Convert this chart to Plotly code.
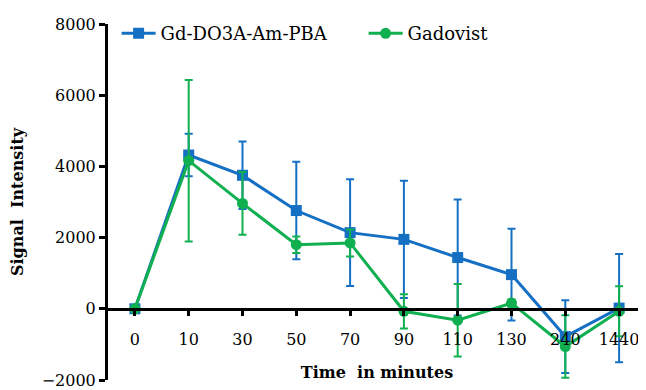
import plotly.graph_objects as go

categories = ["0", "10", "30", "50", "70", "90", "110", "130", "240", "1440"]
pba_values = [0, 4320, 3750, 2760, 2140, 1950, 1440, 960, -780, 20]
pba_errors = [0, 600, 950, 1370, 1500, 1650, 1630, 1290, 1020, 1520]
gado_values = [0, 4160, 2960, 1800, 1850, -70, -320, 160, -1060, -70]
gado_errors = [0, 2270, 880, 230, 380, 480, 1020, 100, 880, 700]
y_ticks = [-2000, 0, 2000, 4000, 6000, 8000]

BLUE = "#1570C4"
GREEN = "#10B050"
FONT = "DejaVu Serif"

fig = go.Figure()
fig.add_trace(go.Scatter(
    x=categories, y=pba_values, name="Gd-DO3A-Am-PBA",
    mode="lines+markers",
    line=dict(color=BLUE, width=3),
    marker=dict(symbol="square", size=11, color=BLUE),
    error_y=dict(type="data", array=pba_errors, color=BLUE, thickness=2, width=4),
))
fig.add_trace(go.Scatter(
    x=categories, y=gado_values, name="Gadovist",
    mode="lines+markers",
    line=dict(color=GREEN, width=3),
    marker=dict(symbol="circle", size=11, color=GREEN),
    error_y=dict(type="data", array=gado_errors, color=GREEN, thickness=2, width=4),
))

fig.update_layout(
    width=638, height=382,
    margin=dict(l=100, r=0, t=16, b=10, autoexpand=False),
    paper_bgcolor="white", plot_bgcolor="white",
    font=dict(family=FONT, size=16, color="black"),
    showlegend=True,
    legend=dict(orientation="h", x=0.016, y=1.025, xanchor="left", yanchor="top",
                font=dict(size=18), bgcolor="rgba(0,0,0,0)", itemwidth=34,
                entrywidth=198, entrywidthmode="pixels",
                tracegroupgap=0),
    xaxis=dict(
        type="category", range=[-0.5, 9.5],
        anchor="free", position=0.2, automargin=False,
        showline=True, linecolor="black", linewidth=3,
        ticks="outside", ticklen=5, tickwidth=3, tickcolor="black",
        showgrid=False, zeroline=False,
        ticklabelstandoff=10,
        title=dict(text="<b>Time  in minutes</b>", font=dict(size=16), standoff=18),
    ),
    yaxis=dict(
        range=[-2000, 8000], tickvals=y_ticks, automargin=False,
        showline=True, linecolor="black", linewidth=3,
        ticks="outside", ticklen=6, tickwidth=3, tickcolor="black",
        showgrid=False, zeroline=False,
        title=dict(text="<b>Signal  Intensity</b>", font=dict(size=16), standoff=19),
    ),
)

fig.write_html("out.html")
